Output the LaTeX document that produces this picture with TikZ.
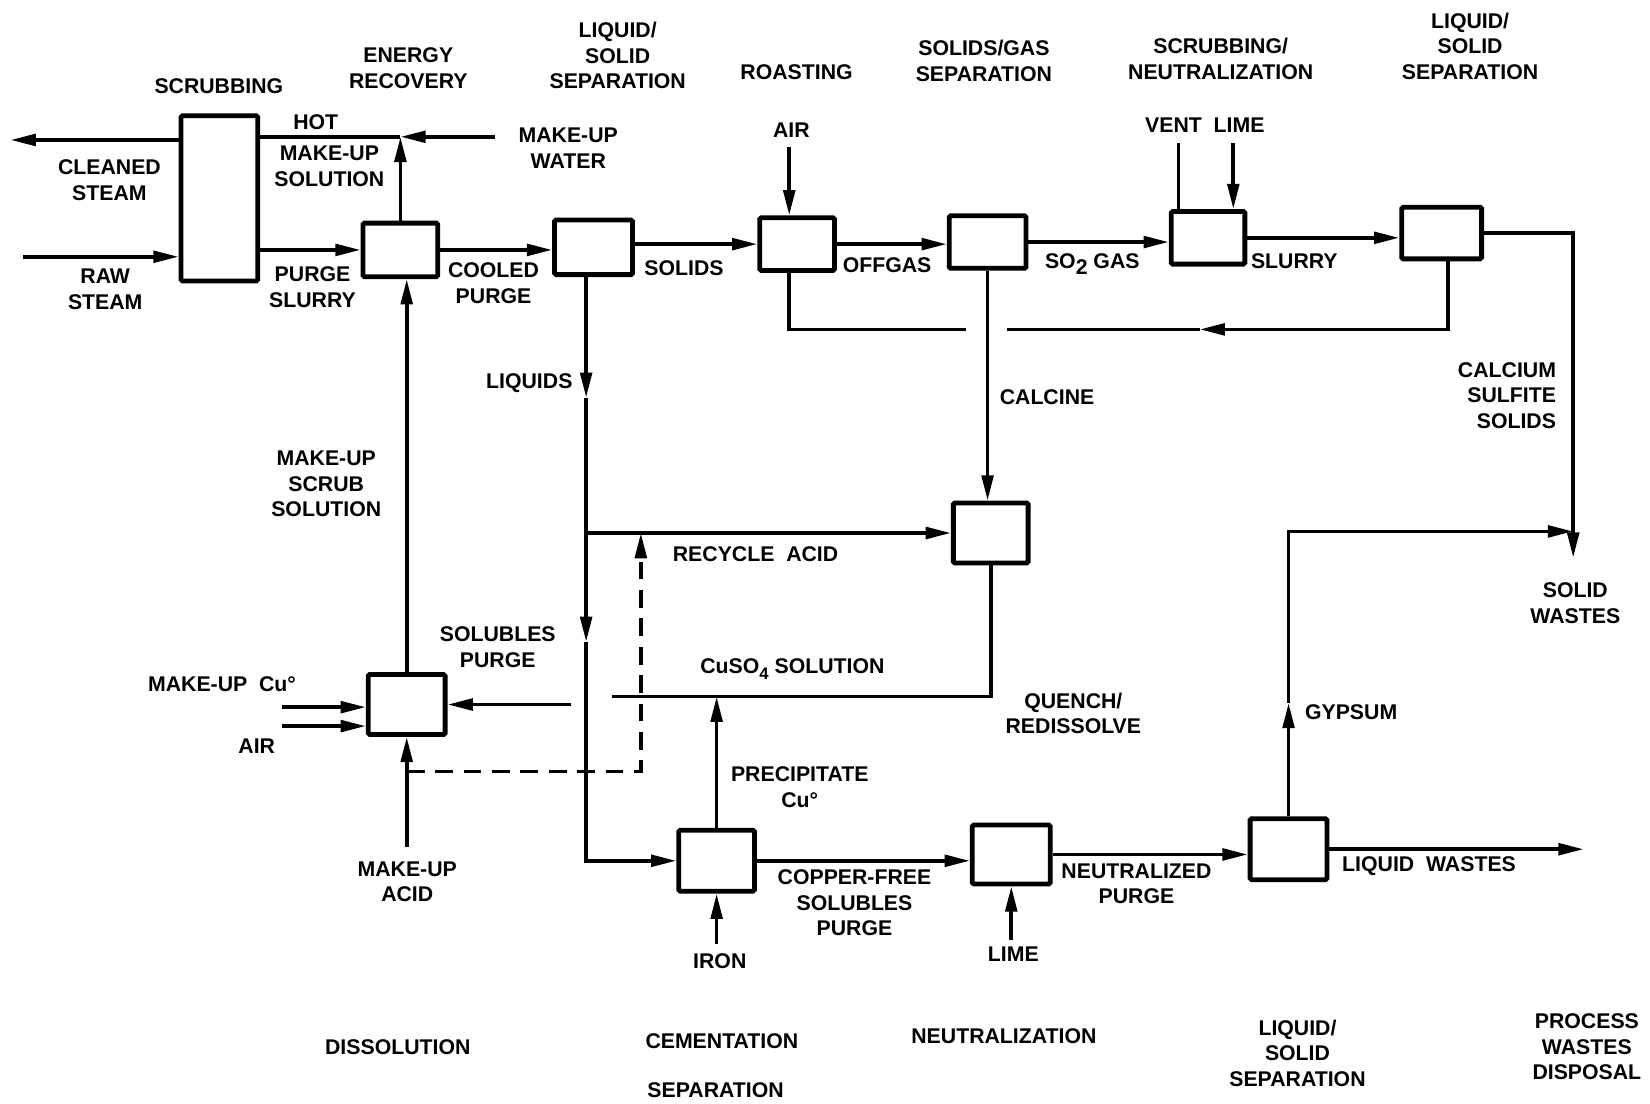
\documentclass[tikz,border=0pt]{standalone}
\usepackage{fontspec}
\setmainfont{Liberation Sans}
\usetikzlibrary{arrows.meta}
\begin{document}
\begin{tikzpicture}[x=0.02cm,y=-0.02cm,
  unit/.style={draw, line width=2.6pt, inner sep=0pt, rounded corners=0.8pt},
  lbl/.style={font=\fontsize{11.5}{13.8}\selectfont\bfseries, align=center, inner sep=0pt},
  flow/.style={line width=2pt},
  arr/.style={flow, -{Triangle[length=0.48cm,width=0.22cm]}},
  dsh/.style={flow, dash pattern=on 0.34cm off 0.2cm, -{Triangle[length=0.48cm,width=0.22cm]}}]
\fill[white] (0,0) rectangle (1568,1049);
\useasboundingbox (0,0) rectangle (1568,1049);

% process units
\node[unit, minimum width=1.46cm, minimum height=3.14cm] (scrub) at (208.5,188.5) {};
\node[unit, minimum width=1.42cm, minimum height=1.02cm] (E) at (380.5,237.5) {};
\node[unit, minimum width=1.48cm, minimum height=1.04cm] (LSa) at (564,235) {};
\node[unit, minimum width=1.42cm, minimum height=1.0cm] (R) at (757.5,232) {};
\node[unit, minimum width=1.46cm, minimum height=1.0cm] (SG) at (938.5,230) {};
\node[unit, minimum width=1.40cm, minimum height=1.0cm] (SN) at (1148,226) {};
\node[unit, minimum width=1.52cm, minimum height=0.98cm] (LSb) at (1370,221.5) {};
\node[unit, minimum width=1.42cm, minimum height=1.14cm] (QR) at (941.5,506.5) {};
\node[unit, minimum width=1.46cm, minimum height=1.14cm] (D) at (386.5,669.5) {};
\node[unit, minimum width=1.44cm, minimum height=1.16cm] (C) at (681,818) {};
\node[unit, minimum width=1.48cm, minimum height=1.12cm] (N) at (961,812) {};
\node[unit, minimum width=1.46cm, minimum height=1.16cm] (LSc) at (1224.5,807) {};

% free ends and corners
\coordinate (cs) at (10,133);
\coordinate (rs) at (22,244);
\coordinate (mw) at (470,130);
\coordinate (hj) at (380.5,130);
\coordinate (airR) at (750,140);
\coordinate (vent) at (1120,136);
\coordinate (limeA) at (1172,136);
\coordinate (ra) at (1376,313);
\coordinate (ram) at (1140,313);
\coordinate (rb) at (957,313);
\coordinate (rc) at (918,313);
\coordinate (rd) at (750,313);
\coordinate (swc) at (1495,221.5);
\coordinate (swe) at (1495,530);
\coordinate (lqa) at (557,378);
\coordinate (lqb) at (557,610);
\coordinate (lqc) at (557,818);
\coordinate (rj) at (557,506.5);
\coordinate (da) at (386.5,733);
\coordinate (db) at (609,733);
\coordinate (dc) at (609,506.5);
\coordinate (cua) at (941.5,662);
\coordinate (cub) at (582,662);
\coordinate (cuc) at (543,669.5);
\coordinate (cud) at (681,662);
\coordinate (iron) at (681,897);
\coordinate (limeB) at (961,893);
\coordinate (lw) at (1505,807);
\coordinate (gm) at (1224.5,668);
\coordinate (gc) at (1224.5,505);
\coordinate (ge) at (1495,505);
\coordinate (mcu) at (268,672);
\coordinate (mair) at (268,690);
\coordinate (macid) at (386.5,805);

% connectors
\draw[arr] (scrub.west |- cs) -- (cs);
\draw[arr] (rs) -- (scrub.west |- rs);
\draw[arr] (mw) -- (hj);
\draw[flow] (hj) -- (scrub.east |- hj);
\draw[arr] (E.north) -- (hj);
\draw[arr] (scrub.east |- E.west) -- (E.west);
\draw[arr] (E.east) -- (LSa.west |- E.east);
\draw[arr] (LSa.east |- R.west) -- (R.west);
\draw[arr] (R.east) -- (SG.west |- R.east);
\draw[arr] (SG.east) -- (SN.west |- SG.east);
\draw[arr] (SN.east) -- (LSb.west |- SN.east);
\draw[arr] (airR) -- (airR |- R.north);
\draw[flow] (vent |- SN.north) -- (vent);
\draw[arr] (limeA) -- (limeA |- SN.north);
\draw[arr] (ra |- LSb.south) -- (ra) -- (ram);
\draw[flow] (ram) -- (rb);
\draw[flow] (rc) -- (rd) -- (rd |- R.south);
\draw[arr] (LSb.east) -- (swc) -- (swe);
\draw[arr] (SG.south) -- (SG.south |- QR.north);
\draw[arr] (lqa |- LSa.south) -- (lqa);
\draw[arr] (lqa) -- (lqb);
\draw[arr] (lqb) -- (lqc) -- (C.west);
\draw[arr] (rj) -- (QR.west);
\draw[dsh] (da) -- (db) -- (dc);
\draw[flow] (QR.south) -- (cua) -- (cub);
\draw[arr] (cuc) -- (D.east);
\draw[arr] (C.north) -- (cud);
\draw[arr] (iron) -- (C.south);
\draw[arr] (C.east) -- (N.west |- C.east);
\draw[arr] (limeB) -- (N.south);
\draw[arr] (N.east) -- (LSc.west |- N.east);
\draw[arr] (LSc.east) -- (lw);
\draw[arr] (LSc.north) -- (gm);
\draw[arr] (gm) -- (gc) -- (ge);
\draw[arr] (D.north) -- (D.north |- E.south);
\draw[arr] (mcu) -- (D.west |- mcu);
\draw[arr] (mair) -- (D.west |- mair);
\draw[arr] (macid) -- (D.south);

% headings
\node[lbl] (t1) at (208,82) {SCRUBBING};
\node[lbl] (t2) at (388,65) {ENERGY\\RECOVERY};
\node[lbl] (t3) at (587,53) {LIQUID/\\SOLID\\SEPARATION};
\node[lbl] (t4) at (757,69) {ROASTING};
\node[lbl] (t5) at (935,58) {SOLIDS/GAS\\SEPARATION};
\node[lbl] (t6) at (1160,56) {SCRUBBING/\\NEUTRALIZATION};
\node[lbl] (t7) at (1397,44) {LIQUID/\\SOLID\\SEPARATION};
\node[lbl] (b1) at (378,995) {DISSOLUTION};
\node[lbl] (b2) at (686,989) {CEMENTATION};
\node[lbl] (b3) at (680,1036) {SEPARATION};
\node[lbl] (b4) at (954,985) {NEUTRALIZATION};
\node[lbl] (b5) at (1233,1001) {LIQUID/\\SOLID\\SEPARATION};
\node[lbl] (b6) at (1508,995) {PROCESS\\WASTES\\DISPOSAL};

% stream labels
\node[lbl] (l1) at (300,116) {HOT};
\node[lbl] (l2) at (313,158) {MAKE-UP\\SOLUTION};
\node[lbl] (l3) at (540,141) {MAKE-UP\\WATER};
\node[lbl] (l4) at (104,171) {CLEANED\\STEAM};
\node[lbl] (l5) at (100,275) {RAW\\STEAM};
\node[lbl] (l6) at (297,273) {PURGE\\SLURRY};
\node[lbl] (l7) at (469,269) {COOLED\\PURGE};
\node[lbl] (l8) at (650,255) {SOLIDS};
\node[lbl] (l9) at (843,252) {OFFGAS};
\node[lbl] (l10) at (1038,251) {SO\raisebox{-0.55ex}{2} GAS};
\node[lbl] (l11) at (1230,248) {SLURRY};
\node[lbl] (l12) at (752,124) {AIR};
\node[lbl] (l13) at (1145,119) {VENT\ \ LIME};
\node[lbl] (l14) at (503,364) {LIQUIDS};
\node[lbl] (l15) at (995,377) {CALCINE};
\node[lbl, align=right, anchor=east] (l16) at (1479,376) {CALCIUM\\SULFITE\\SOLIDS};
\node[lbl] (l17) at (310,460) {MAKE-UP\\SCRUB\\SOLUTION};
\node[lbl] (l18) at (718,527) {RECYCLE\ \ ACID};
\node[lbl] (l19) at (1497,573) {SOLID\\WASTES};
\node[lbl] (l20) at (473,615) {SOLUBLES\\PURGE};
\node[lbl] (l21) at (753,636) {CuSO\raisebox{-0.5ex}{\fontsize{9}{9}\selectfont 4} SOLUTION};
\node[lbl] (l22) at (211,650) {MAKE-UP\ \ Cu°};
\node[lbl] (l23) at (244,709) {AIR};
\node[lbl] (l24) at (1020,678) {QUENCH/\\REDISSOLVE};
\node[lbl] (l25) at (760,748) {PRECIPITATE\\Cu°};
\node[lbl] (l26) at (1284,677) {GYPSUM};
\node[lbl] (l27) at (387,838) {MAKE-UP\\ACID};
\node[lbl] (l28) at (812,858) {COPPER-FREE\\SOLUBLES\\PURGE};
\node[lbl] (l29) at (1080,840) {NEUTRALIZED\\PURGE};
\node[lbl] (l30) at (1358,823) {LIQUID\ \ WASTES};
\node[lbl] (l31) at (684,913) {IRON};
\node[lbl] (l32) at (963,907) {LIME};
\end{tikzpicture}
\end{document}
